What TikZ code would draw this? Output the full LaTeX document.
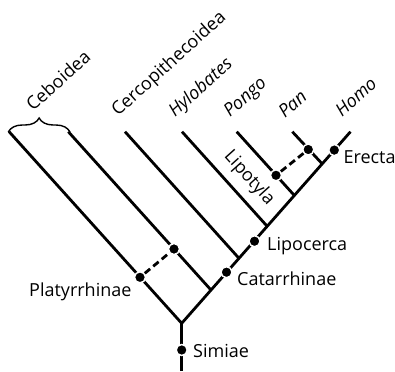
\documentclass[tikz,border=0pt]{standalone}
\usepackage{fontspec}
\setmainfont{Open Sans}
\usetikzlibrary{decorations.pathreplacing}
\tikzset{
  branch/.style={line width=2.8pt, line cap=butt, line join=miter},
  hybrid/.style={line width=2.8pt, dash pattern=on 7pt off 4pt},
  dot/.style={circle, fill=black, draw=white, line width=1.4pt, minimum size=11pt, inner sep=0pt},
  lbl/.style={font=\fontsize{18}{21}\selectfont, inner sep=0pt, text=black},
  tiplbl/.style={lbl, anchor=base west, rotate=42},
}
\begin{document}
\begin{tikzpicture}[x=1pt, y=-1pt]
\useasboundingbox (0,0) rectangle (395,371);
% tips and joins
\coordinate (R) at (181.7,323.3);
\coordinate (B) at (181.7,371);
\coordinate (T1) at (9.1,131.7);
\coordinate (T2) at (68.3,131.7);
\coordinate (J2) at (211.0,290.0);
\coordinate (T3) at (125,131.7);
\coordinate (J3) at (239.0,258.3);
\coordinate (T4) at (182,131.7);
\coordinate (J4) at (267.2,226.3);
\coordinate (T5) at (236.7,131.7);
\coordinate (J5) at (294.2,195.3);
\coordinate (T6) at (292.3,131.7);
\coordinate (J6) at (321.7,163.3);
\coordinate (T7) at (350.5,131.7);
% branches
\draw[branch] (B) -- (R);
\draw[branch] (T1) -- (R) -- (T7);
\draw[branch] (T2) -- (J2);
\draw[branch] (T3) -- (J3);
\draw[branch] (T4) -- (J4);
\draw[branch] (T5) -- (J5);
\draw[branch] (T6) -- (J6);
% dots
\node[dot] (S) at (181.7,350) {};
\node[dot] (P) at (140,277.3) {};
\node[dot] (Q) at (174,249) {};
\node[dot] (C) at (226.5,272.2) {};
\node[dot] (L) at (254.5,241.2) {};
\node[dot] (D5) at (276,175.3) {};
\node[dot] (D6) at (308.3,149.5) {};
\node[dot] (E) at (334.3,150.1) {};
\draw[hybrid] (P) -- (Q);
\draw[hybrid] (D5) -- (D6);
% brace
\coordinate (BL) at (8.3,132);
\coordinate (BR) at (70,132);
\draw[line width=1.4pt, decorate, decoration={brace, amplitude=14pt}] (BL) -- (BR);
% labels
\node[lbl, anchor=base west] (simiae) at (193,357) {Simiae};
\node[lbl, anchor=base east] (platy) at (131.7,296.7) {Platyrrhinae};
\node[lbl, anchor=base west] (catar) at (237,285) {Catarrhinae};
\node[lbl, anchor=base west] (lipoc) at (267,250) {Lipocerca};
\node[lbl, anchor=base west] (erecta) at (343.3,163.3) {Erecta};
\node[lbl, rotate=-48] (lipot) at (249,178) {Lipotyla};
\node[tiplbl] (ceb) at (33,112) {Ceboidea};
\node[tiplbl] (cerco) at (118,117) {Cercopithecoidea};
\node[tiplbl] (hylo) at (175,118) {\itshape Hylobates};
\node[tiplbl] (pongo) at (230,118) {\itshape Pongo};
\node[tiplbl] (pan) at (285,119) {\itshape Pan};
\node[tiplbl] (homo) at (342,118) {\itshape Homo};
\end{tikzpicture}
\end{document}
